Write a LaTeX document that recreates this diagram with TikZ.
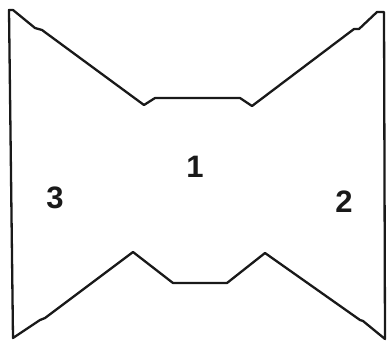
\documentclass[tikz,border=0pt]{standalone}
\usepackage{fontspec}
\setmainfont{Liberation Sans}
\begin{document}
\begin{tikzpicture}[x=1pt,y=-1pt,
  outline/.style={draw=black!90,line width=2.3pt,line join=round},
  lbl/.style={font=\fontsize{31}{31}\selectfont\bfseries,text=black!90,inner sep=0pt}]
\useasboundingbox[fill=white] (0,0) rectangle (387,341);
\draw[outline] (9,10) -- (13,10) -- (35,28) -- (42,30) -- (144,105) -- (155,98)
  -- (240,98) -- (252,106) -- (354,29) -- (359,29) -- (377,12) -- (384,12)
  -- (385,339) -- (363,321) -- (360,320) -- (265,253) -- (227,283) -- (173,283)
  -- (133,252) -- (45,318) -- (40,320) -- (13,338) -- cycle;
\node[lbl] (one) at (195,167) {1};
\node[lbl] (three) at (55,198) {3};
\node[lbl] (two) at (344,202) {2};
\end{tikzpicture}
\end{document}
